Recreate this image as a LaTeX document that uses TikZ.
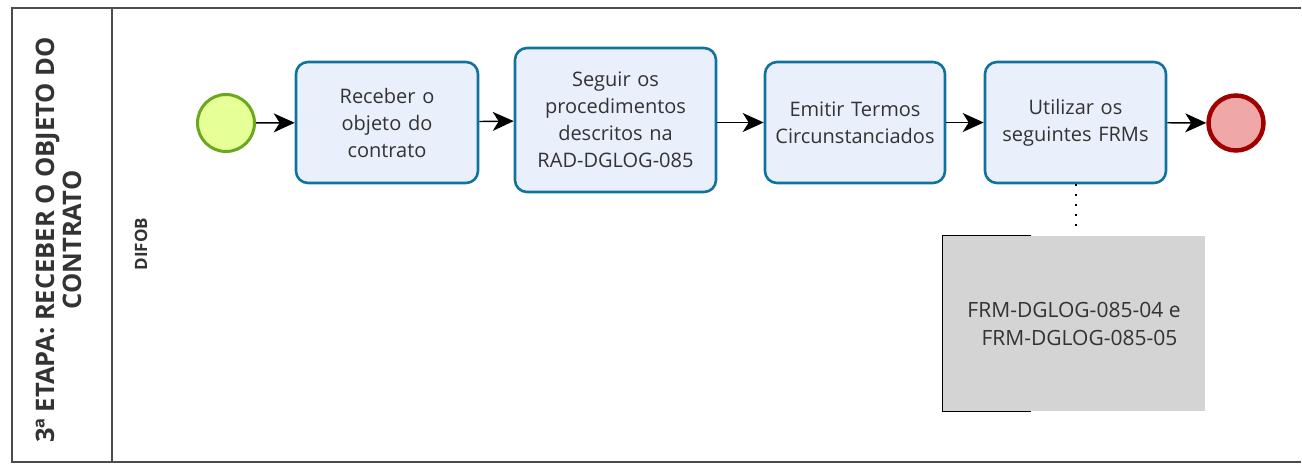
\documentclass[tikz,border=0pt]{standalone}
\usepackage{fontspec}
\setmainfont{Open Sans}
\usetikzlibrary{arrows.meta}
\definecolor{taskblue}{HTML}{10739E}
\definecolor{taskfill}{HTML}{EAEFFC}
\definecolor{startgreen}{HTML}{6BA81E}
\definecolor{startfill}{HTML}{E6FF97}
\definecolor{endred}{HTML}{A10000}
\definecolor{endfill}{HTML}{EFA7A7}
\definecolor{txt}{HTML}{333333}
\definecolor{annfill}{HTML}{D4D4D4}
\tikzset{
  task/.style={draw=taskblue, line width=2.6pt, fill=taskfill, rounded corners=12pt,
    minimum width=#1, text width=#1-10pt, align=center, font=\fontsize{20}{27}\selectfont, text=txt, inner sep=0pt},
  flow/.style={-{Stealth[length=21pt,width=19pt,inset=6pt]}, line width=1.4pt, black},
  lane/.style={draw=gray!60!black, line width=1.2pt},
}
\begin{document}
\begin{tikzpicture}[x=1pt,y=-1pt]
\useasboundingbox (0,0) rectangle (1302,464);
% frame
\draw[lane] (1301,8) -- (12,8) -- (12,462) -- (1301,462);
\draw[lane] (112,8) -- (112,462);
\node[rotate=90, align=center, font=\bfseries\fontsize{25.5}{27}\selectfont, text=txt] (hdr) at (59,240) {3ª ETAPA: RECEBER O OBJETO DO\\CONTRATO};
\node[rotate=90, font=\bfseries\fontsize{17}{20}\selectfont, text=txt] (lanename) at (141,244) {DIFOB};
% events
\node[circle, draw=startgreen, line width=3pt, fill=startfill, minimum size=57pt, inner sep=0pt] (start) at (226,123) {};
\node[circle, draw=endred, line width=4.5pt, fill=endfill, minimum size=55pt, inner sep=0pt] (end) at (1236,123) {};
% tasks
\node[task=182pt, minimum height=121pt] (t1) at (387,122.5) {Receber o\\objeto do\\contrato};
\node[task=201pt, minimum height=144pt] (t2) at (615.5,120) {Seguir os\\procedimentos\\descritos na\\RAD-DGLOG-085};
\node[task=180pt, minimum height=121pt] (t3) at (855,122.5) {Emitir Termos\\Circunstanciados};
\node[task=181pt, minimum height=121pt] (t4) at (1075.5,122.5) {Utilizar os\\seguintes FRMs};
% flows
\draw[flow] (start) -- (t1);
\draw[flow] (t1) -- (t2);
\draw[flow] (t2.east |- t1.east) -- (t3);
\draw[flow] (t3) -- (t4);
\draw[flow] (t4) -- (end);
% annotation
\node[fill=annfill, minimum width=262pt, minimum height=175pt, inner sep=0pt, align=center,
  font=\fontsize{21}{28}\selectfont, text=txt] (ann) at (1074,323.5) {FRM-DGLOG-085-04 e\\\ \ FRM-DGLOG-085-05};
\draw[line width=1.3pt, black] ([xshift=88pt]ann.north west) -- (ann.north west) -- (ann.south west) -- ([xshift=88pt]ann.south west);
\draw[line width=2pt, dash pattern=on 2pt off 8pt, black] (t4.south) -- (t4.south |- 0,230) coordinate (dotend);
\end{tikzpicture}
\end{document}
